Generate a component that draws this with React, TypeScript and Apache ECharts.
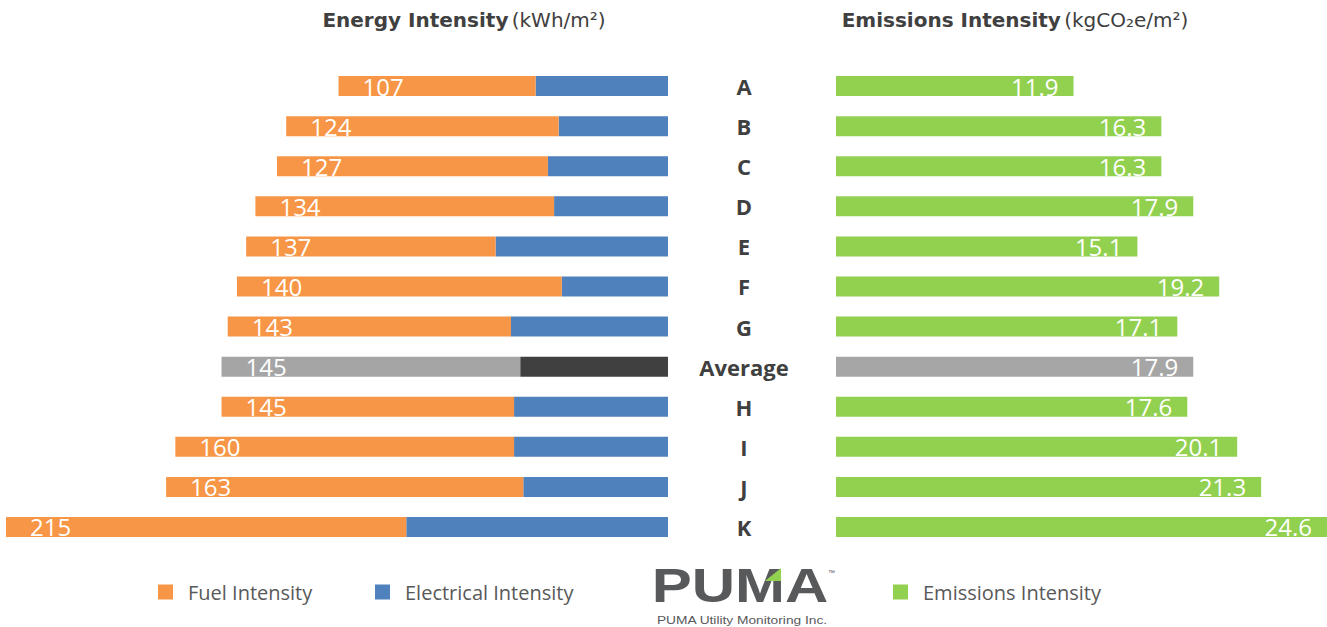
import React, { useEffect, useRef } from "react";
import * as echarts from "echarts";

const categories = ["A", "B", "C", "D", "E", "F", "G", "Average", "H", "I", "J", "K"];
const energyTotal = [107, 124, 127, 134, 137, 140, 143, 145, 145, 160, 163, 215];
const fuelIntensity = [64, 88.5, 88, 97, 81, 105.5, 92, 97, 95, 110, 116, 130];
const electricalIntensity = [43, 35.5, 39, 37, 56, 34.5, 51, 48, 50, 50, 47, 85];
const emissionsIntensity = [11.9, 16.3, 16.3, 17.9, 15.1, 19.2, 17.1, 17.9, 17.6, 20.1, 21.3, 24.6];
const averageIndex = 7;

const LABEL_FONT = "'Open Sans', 'Noto Sans', sans-serif";

export default function App() {
  const ref = useRef<HTMLDivElement>(null);

  useEffect(() => {
    if (!ref.current) return;
    const chart = echarts.init(ref.current, null, { renderer: "svg" });

    const withAvg = (arr: number[], avgColor: string) =>
      arr.map((v, i) => (i === averageIndex ? { value: v, itemStyle: { color: avgColor } } : v));

    const legendText = {
      fontSize: 20,
      color: "#595959",
      fontFamily: LABEL_FONT,
      padding: [0, 0, 0, 10],
    };

    const legendBase = {
      top: 577,
      icon: "rect",
      itemWidth: 15,
      itemHeight: 15,
      textStyle: legendText,
      selectedMode: false,
    };

    const option: any = {
      animation: false,
      backgroundColor: "#ffffff",
      grid: [
        { left: 6, right: 659, top: 66, height: 481, containLabel: false },
        { left: 836, right: 0, top: 66, height: 481, containLabel: false },
      ],
      xAxis: [
        { type: "value", gridIndex: 0, inverse: true, min: 0, max: 215, show: false },
        { type: "value", gridIndex: 1, min: 0, max: 24.6, show: false },
      ],
      yAxis: [
        { type: "category", gridIndex: 0, data: categories, inverse: true, show: false },
        {
          type: "category",
          gridIndex: 1,
          data: categories,
          inverse: true,
          axisLine: { show: false },
          axisTick: { show: false },
          splitLine: { show: false },
          axisLabel: {
            margin: 92,
            align: "center",
            fontWeight: "bold",
            fontSize: 22,
            color: "#404040",
            fontFamily: LABEL_FONT,
          },
        },
      ],
      legend: [
        { ...legendBase, data: ["Fuel Intensity"], left: 153 },
        { ...legendBase, data: ["Electrical Intensity"], left: 370 },
        { ...legendBase, data: ["Emissions Intensity"], left: 888 },
      ],
      series: [
        {
          name: "Electrical Intensity",
          type: "bar",
          stack: "energy",
          xAxisIndex: 0,
          yAxisIndex: 0,
          barWidth: 20,
          itemStyle: { color: "#4F81BD" },
          data: withAvg(electricalIntensity, "#404040"),
        },
        {
          name: "Fuel Intensity",
          type: "bar",
          stack: "energy",
          xAxisIndex: 0,
          yAxisIndex: 0,
          barWidth: 20,
          itemStyle: { color: "#F79646" },
          label: {
            show: true,
            position: "insideLeft",
            distance: 24,
            color: "#ffffff",
            fontSize: 24,
            fontFamily: LABEL_FONT,
            formatter: (p: any) => String(energyTotal[p.dataIndex]),
          },
          data: withAvg(fuelIntensity, "#A5A5A5"),
        },
        {
          name: "Emissions Intensity",
          type: "bar",
          xAxisIndex: 1,
          yAxisIndex: 1,
          barWidth: 20,
          itemStyle: { color: "#92D050" },
          label: {
            show: true,
            position: "insideRight",
            distance: 15,
            color: "#ffffff",
            fontSize: 24,
            fontFamily: LABEL_FONT,
            formatter: (p: any) => emissionsIntensity[p.dataIndex].toFixed(1),
          },
          data: withAvg(emissionsIntensity, "#A6A6A6"),
        },
      ],
      graphic: [
        {
          type: "text",
          x: 464,
          y: 20,
          style: {
            text: "{b|Energy Intensity} {n|(kWh/m²)}",
            align: "center",
            verticalAlign: "middle",
            rich: {
              b: { fontSize: 20, fontWeight: "bold", fill: "#404040", fontFamily: "'DejaVu Sans', sans-serif" },
              n: { fontSize: 20, fill: "#404040", fontFamily: "'DejaVu Sans', sans-serif" },
            },
          },
        },
        {
          type: "text",
          x: 1015,
          y: 20,
          style: {
            text: "{b|Emissions Intensity} {n|(kgCO₂e/m²)}",
            align: "center",
            verticalAlign: "middle",
            rich: {
              b: { fontSize: 20, fontWeight: "bold", fill: "#404040", fontFamily: "'DejaVu Sans', sans-serif" },
              n: { fontSize: 20, fill: "#404040", fontFamily: "'DejaVu Sans', sans-serif" },
            },
          },
        },
        {
          type: "text",
          x: 740,
          y: 586,
          scaleX: 1.25,
          style: {
            text: "PUMA",
            align: "center",
            verticalAlign: "middle",
            fontSize: 48,
            lineHeight: 36,
            fontWeight: "bold",
            fill: "#58595B",
            fontFamily: "'Liberation Sans', Arial, sans-serif",
          },
        },
        {
          type: "polygon",
          shape: { points: [[765, 581], [781, 568], [781, 581]] },
          style: { fill: "#92D050" },
        },
        {
          type: "text",
          x: 828,
          y: 572,
          style: { text: "™", fontSize: 7, fill: "#58595B", verticalAlign: "middle" },
        },
        {
          type: "text",
          x: 742,
          y: 620,
          scaleX: 1.25,
          style: {
            text: "PUMA Utility Monitoring Inc.",
            align: "center",
            verticalAlign: "middle",
            fontSize: 11,
            lineHeight: 11,
            fill: "#58595B",
            fontFamily: "'Liberation Sans', Arial, sans-serif",
          },
        },
      ],
    };

    chart.setOption(option);
    return () => chart.dispose();
  }, []);

  return (
    <div
      ref={ref}
      style={{ position: "absolute", left: 0, top: 0, width: 1327, height: 627, background: "#fff" }}
    />
  );
}
